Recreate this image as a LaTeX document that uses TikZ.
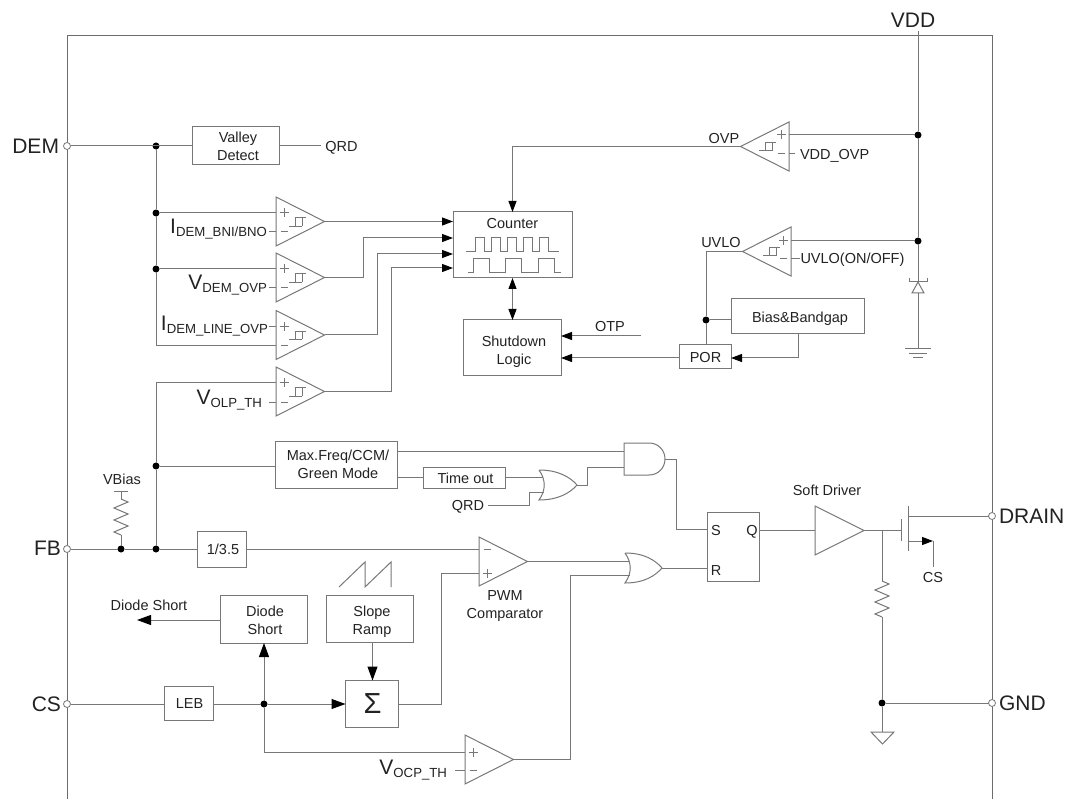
\documentclass[tikz,border=0pt]{standalone}
\usepackage{fontspec}
\setmainfont{Liberation Sans}
\usetikzlibrary{arrows.meta}
\definecolor{wire}{HTML}{777777}
\definecolor{ink}{HTML}{222222}
\tikzset{
  wirel/.style={draw=wire,line width=1pt},
  frame/.style={draw=wire!90!black,line width=0.95pt},
  box/.style={draw=wire,line width=1pt,fill=white,inner sep=0pt,outer sep=0pt},
  txt/.style={inner sep=0pt,outer sep=0pt,text=ink,align=center,text depth=0pt,font=\fontsize{14.5}{18}\selectfont},
  biglabel/.style={inner sep=0pt,outer sep=0pt,text=ink,text depth=0pt,font=\fontsize{21}{21}\selectfont},
  sublabel/.style={inner sep=0pt,outer sep=0pt,text=ink,font=\fontsize{21}{21}\selectfont},
  pinc/.style={circle,draw=wire,fill=white,line width=0.8pt,minimum size=7pt,inner sep=0pt,outer sep=0pt},
  jdot/.style={circle,fill=black,minimum size=7pt,inner sep=0pt,outer sep=0pt},
  arr/.style={-{Triangle[length=11pt,width=8pt,color=black]}},
  arrbig/.style={-{Triangle[length=14pt,width=10pt,color=black]}},
  darr/.style={{Triangle[length=11pt,width=8pt,color=black]}-{Triangle[length=11pt,width=8pt,color=black]}},
}
\newcommand{\bx}[5]{%
  \pgfmathsetmacro\bxw{#4-#2}\pgfmathsetmacro\bxh{#5-#3}%
  \node[box,minimum width=\bxw pt,minimum height=\bxh pt] (#1) at ({(#2+#4)/2},{(#3+#5)/2}) {};}
% text in a box: box name, text, dx, dy
\newcommand{\bl}[4]{\node[txt] (#1-t) at ([shift={(#3,#4)}]#1.center) {#2};}
\newcommand{\dotat}[3]{\node[jdot] (#1) at (#2,#3) {};}
\newcommand{\cmpR}[5]{%
  \begin{scope}[shift={(#2,#3)}]
  \draw[wirel,line join=miter] (0,0) -- (48.5,24.5) -- (0,49) -- cycle;
  \draw[wirel] (3.5,#4) -- (12.5,#4) (8,{#4-4.5}) -- (8,{#4+4.5}) (4.5,#5) -- (11.5,#5);
  \coordinate (#1-p) at (0,#4);
  \coordinate (#1-m) at (0,#5);
  \coordinate (#1-o) at (48.5,24.5);
  \end{scope}}
\newcommand{\cmpL}[5]{%
  \begin{scope}[shift={(#2,#3)}]
  \draw[wirel,line join=miter] (0,0) -- (-48.5,24.5) -- (0,49) -- cycle;
  \draw[wirel] (-3.5,#4) -- (-12.5,#4) (-8,{#4-4.5}) -- (-8,{#4+4.5}) (-4,#5) -- (-11.5,#5);
  \coordinate (#1-p) at (0,#4);
  \coordinate (#1-m) at (0,#5);
  \coordinate (#1-o) at (-48.5,24.5);
  \end{scope}}
\newcommand{\hyst}[2]{%
  \draw[wirel,line width=0.8pt] ({#1+13},{#2+4}) -- ({#1+26},{#2+4}) ({#1+19.5},{#2+4}) -- ({#1+19.5},{#2-4.5}) -- ({#1+30},{#2-4.5}) ({#1+26.5},{#2-4.5}) -- ({#1+26.5},{#2+4});}
\newcommand{\subl}[2]{#1\raisebox{-3pt}{\fontsize{13.2}{13}\selectfont #2}}
\newcommand{\resV}[2]{%
  \draw[wirel] (#1,#2) -- ({#1+7},{#2+3}) -- ({#1-7},{#2+9}) -- ({#1+7},{#2+15}) -- ({#1-7},{#2+21}) -- ({#1+7},{#2+27}) -- ({#1-7},{#2+33}) -- (#1,{#2+36});}
\begin{document}
\begin{tikzpicture}[x=1pt,y=-1pt]
\useasboundingbox (0,0) rectangle (1068,799);
% package outline
\draw[frame] (67,799) -- (67,35) -- (992,35) -- (992,799);
% pins
\node[pinc] (dem) at (67,146) {};
\node[pinc] (fb) at (67,549) {};
\node[pinc] (cs) at (67,704) {};
\node[pinc] (drain) at (992,516) {};
\node[pinc] (gnd) at (992,703) {};
\node[biglabel,anchor=east] (demL) at (59,146) {DEM};
\node[biglabel,anchor=east] (fbL) at (61,548) {FB};
\node[biglabel,anchor=east] (csL) at (61,704) {CS};
\node[biglabel,anchor=west] (drainL) at (999,516) {DRAIN};
\node[biglabel,anchor=west] (gndL) at (999,703) {GND};
\node[biglabel] (vddL) at (913,20) {VDD};
% boxes
\bx{valley}{192.5}{127}{279.5}{165}\bl{valley}{Valley\\Detect}{2}{0.5}
\bx{counterb}{453}{212}{572}{278}
\bx{shut}{463}{320}{561}{376}\bl{shut}{Shutdown\\Logic}{2}{2}
\bx{por}{679}{345}{731}{369}\bl{por}{POR}{0.5}{0}
\bx{bias}{731}{299}{864}{334}\bl{bias}{Bias\&Bandgap}{2.5}{1}
\bx{maxf}{275.5}{441}{397.5}{488.5}\bl{maxf}{Max.Freq/CCM/\\Green Mode}{1.5}{-1}
\bx{tout}{423}{467}{505}{488.5}\bl{tout}{Time out}{1.5}{0}
\bx{third}{197.5}{531}{246.5}{567}\bl{third}{1/3.5}{1}{0}
\bx{sr}{707.5}{512.5}{759.5}{581.5}
\bx{dshort}{220.5}{595.5}{307.5}{643}\bl{dshort}{Diode\\Short}{1}{1}
\bx{ramp}{326.5}{595.5}{413.5}{642.5}\bl{ramp}{Slope\\Ramp}{2}{1}
\bx{leb}{164.5}{686.5}{213.5}{720.5}\bl{leb}{LEB}{0.5}{0}
\bx{sigma}{345.5}{680.5}{398}{727.5}
\node[txt,font=\fontsize{29}{29}\selectfont] (sigmaT) at (372.5,704) {Σ};
% counter content
\node[txt] (counterT) at (512.5,223.5) {Counter};
\draw[wirel] (466,252) -- (475,252) -- (475,238) -- (484,238) -- (484,252) -- (491,252) -- (491,238) -- (500,238) -- (500,252) -- (507,252) -- (507,238) -- (516,238) -- (516,252) -- (523,252) -- (523,238) -- (532,238) -- (532,252) -- (539,252) -- (539,238) -- (548,238) -- (548,252) -- (559,252);
\draw[wirel] (468,273) -- (473,273) -- (473,259) -- (489,259) -- (489,273) -- (505,273) -- (505,259) -- (521,259) -- (521,273) -- (538,273) -- (538,259) -- (554,259) -- (554,273) -- (561,273);
% S R Q
\node[txt] (sT) at (716,530) {S};
\node[txt] (rT) at (716,571) {R};
\node[txt] (qT) at (752,530) {Q};
% comparators
\cmpR{c1}{276}{197}{16}{35}\hyst{276}{222}
\cmpR{c2}{276}{253}{16}{35}\hyst{276}{278}
\cmpR{c3}{276}{310.5}{16}{35.5}\hyst{276}{335.5}
\cmpR{c4}{276}{367}{16}{35}\hyst{276}{392}
\cmpL{ovp}{789}{122}{13}{32}\hyst{746}{146.7}
\cmpL{uv}{791}{227}{14}{32}\hyst{750}{251.7}
\cmpR{pwm}{479}{537}{36}{12}
\cmpR{ocp}{465}{735}{17}{35}
% comparator label stubs
\coordinate (s1) at (269,232); \draw[wirel] (s1) -- (c1-m);
\coordinate (s2) at (269,288); \draw[wirel] (s2) -- (c2-m);
\coordinate (s3) at (269,326.5); \draw[wirel] (s3) -- (c3-p);
\coordinate (s4) at (269,402); \draw[wirel] (s4) -- (c4-m);
\coordinate (s5) at (455,770); \draw[wirel] (s5) -- (ocp-m);
\coordinate (s6) at (795,154); \draw[wirel] (s6) -- (ovp-m);
\coordinate (s7) at (800,259); \draw[wirel] (s7) -- (uv-m);
% comparator labels
\node[sublabel,anchor=base east] (l1) at (267,234) {\subl{I}{DEM\_BNI/BNO}};
\node[sublabel,anchor=base east] (l2) at (267,290) {\subl{V}{DEM\_OVP}};
\node[sublabel,anchor=base east] (l3) at (268,331) {\subl{I}{DEM\_LINE\_OVP}};
\node[sublabel,anchor=base east] (l4) at (262,404) {\subl{V}{OLP\_TH}};
\node[sublabel,anchor=base east] (l5) at (447,774) {\subl{V}{OCP\_TH}};
\node[txt,anchor=west] (l6) at (800,154) {VDD\_OVP};
\node[txt,anchor=west] (l7) at (800.5,258) {UVLO(ON/OFF)};
\node[txt] (ovpT) at (724,138) {OVP};
\node[txt] (uvT) at (721,242) {UVLO};
\node[txt] (otpT) at (610,326) {OTP};
\node[txt] (qrd1) at (341.5,146) {QRD};
\node[txt] (qrd2) at (468,505) {QRD};
\node[txt] (vbias) at (122,479) {VBias};
\node[txt] (softT) at (827,490) {Soft Driver};
\node[txt] (pwmT) at (505,605) {PWM\\Comparator};
\node[txt] (dsT) at (149,605) {Diode Short};
\node[txt] (csT) at (933,577) {CS};
% DEM net
\dotat{ja}{156}{146}\dotat{jb}{156}{213}\dotat{jc}{156}{269}
\coordinate (qrdEnd) at (321,146);
\draw[wirel] (dem) -- (valley.west) (valley.east) -- (qrdEnd);
\draw[wirel] (ja) -- (jb) -- (jc) -- (c3-m -| jc) -- (c3-m);
\draw[wirel] (jb) -- (c1-p) (jc) -- (c2-p);
% comparators to counter
\coordinate (ci2) at (453,238);\coordinate (ci3) at (453,254);\coordinate (ci4) at (453,268);
\draw[wirel,arr] (c1-o) -- (c1-o -| counterb.west);
\coordinate (b2) at (363,277.5);\coordinate (b3) at (377,335);\coordinate (b4) at (391,391.5);
\draw[wirel,arr] (c2-o) -- (b2) |- (ci2);
\draw[wirel,arr] (c3-o) -- (b3) |- (ci3);
\draw[wirel,arr] (c4-o) -- (b4) |- (ci4);
\draw[wirel,arr] (ovp-o) -| (counterb.north);
\draw[wirel,darr] (counterb.south) -- (counterb.south |- shut.north);
% VDD rail
\coordinate (vddTop) at (918,31);
\dotat{jv1}{918}{135}\dotat{jv2}{918}{241}
\coordinate (zt) at (918,282);\coordinate (zb) at (918,293);\coordinate (gt) at (918,349);
\draw[wirel] (vddTop) -- (jv1) -- (jv2) -- (zt) (zb) -- (gt);
\draw[wirel] (jv1) -- (ovp-p) (jv2) -- (uv-p);
\draw[wirel] (912,293) -- (924,293) -- (918,282) -- cycle;
\draw[wirel] (909,278) -- (909,282) -- (927,282) -- (927,278);
\draw[wirel] (905,349) -- (931,349) (909,353.5) -- (927,353.5) (913,358) -- (923,358);
% UVLO / POR
\dotat{jp}{706}{320}
\draw[wirel] (por.north -| jp) -- (jp) -- (uv-o -| jp) -- (uv-o);
\draw[wirel] (jp) -- (bias.west |- jp);
\coordinate (bo) at (798,358);
\draw[wirel,arr] (bias.south -| bo) -- (bo) -- (por.east |- bo);
\coordinate (por2) at (679,358);
\draw[wirel,arr] (por2) -- (por2 -| shut.east);
\coordinate (otpE) at (641,336);
\draw[wirel,arr] (otpE) -- (otpE -| shut.east);
% FB net
\dotat{jf1}{121}{549}\dotat{jf2}{156}{549}\dotat{jf3}{156}{466}
\draw[wirel] (fb) -- (jf1) -- (jf2) -- (third.west) (third.east) -- (pwm-m);
\draw[wirel] (jf2) -- (jf3) -- (c4-p -| jf3) -- (c4-p);
\draw[wirel] (jf3) -- (jf3 -| maxf.west);
% VBias resistor
\coordinate (rvT) at (121,491);\coordinate (rvA) at (121,499);\coordinate (rvB) at (121,535);
\draw[wirel] (114,491) -- (128,491) (rvT) -- (rvA);
\resV{121}{499}
\draw[wirel] (rvB) -- (jf1);
% Logic gates
\draw[wirel] (624,443) -- (649,443) .. controls (658,443) and (665,450) .. (665,459) .. controls (665,468) and (658,475) .. (649,475) -- (624,475) -- cycle;
\coordinate (and1) at (624,451.5);\coordinate (and2) at (624,467);\coordinate (ando) at (665,459);
\draw[wirel] (539,470) .. controls (558,470) and (570,477) .. (577,485) .. controls (570,493) and (558,500) .. (539,500) .. controls (546,490) and (546,480) .. (539,470);
\coordinate (or1a) at (543,478);\coordinate (or1b) at (544,492);\coordinate (or1o) at (577,485);
\draw[wirel] (625,553) .. controls (644,553) and (655,560) .. (662,568) .. controls (655,576) and (644,583) .. (625,583) .. controls (632,573) and (632,563) .. (625,553);
\coordinate (or2a) at (629,561.5);\coordinate (or2b) at (630,575);\coordinate (or2o) at (662,568);
\draw[wirel] (maxf.east |- and1) -- (and1);
\coordinate (m2) at (397.5,477.75);
\draw[wirel] (m2) -- (tout.west);
\draw[wirel] (tout.east) -- (or1a |- tout.east);
\coordinate (q2s) at (488,505);\coordinate (q2m) at (529,505);
\draw[wirel] (q2s) -- (q2m) |- (or1b);
\coordinate (o1m) at (587,485);
\draw[wirel] (or1o) -- (o1m) |- (and2);
\coordinate (am) at (676,459);\coordinate (sin) at (707.5,529.5);
\draw[wirel] (ando) -- (am) |- (sin);
\coordinate (rin) at (707.5,568);
\draw[wirel] (or2o) -- (rin);
\draw[wirel] (pwm-o) -- (or2a);
\coordinate (om) at (570,759.5);
\draw[wirel] (ocp-o) -- (om) |- (or2b);
% Soft driver and MOSFET
\coordinate (qo) at (759.5,530.5);
\draw[wirel,line join=miter] (815,506) -- (864,530.5) -- (815,555) -- cycle;
\coordinate (dl) at (815,530.5);\coordinate (dr) at (864,530.5);\coordinate (jg) at (882,530.5);\coordinate (gg) at (901,530.5);
\draw[wirel] (qo) -- (dl) (dr) -- (jg) -- (gg);
\draw[wirel] (901,519) -- (901,541) (908,506) -- (908,551);
\coordinate (md) at (908,516);\coordinate (ms) at (908,541);\coordinate (ma) at (933,541);\coordinate (mb) at (933,567);
\draw[wirel] (md) -- (drain);
\draw[wirel,arr] (ms) -- (ma);
\draw[wirel] (ma) -- (mb);
\coordinate (rgT) at (882,581);\coordinate (rgB) at (882,617);
\draw[wirel] (jg) -- (rgT);
\resV{882}{581}
\dotat{jg2}{882}{703}
\coordinate (gs) at (882,732);
\draw[wirel] (rgB) -- (jg2) -- (gs) (jg2) -- (gnd);
\draw[wirel,line join=miter] (871,732) -- (894,732) -- (882.5,744) -- cycle;
% PWM input and sigma
\coordinate (pm) at (441,704);
\draw[wirel] (sigma.east) -- (pm) |- (pwm-p);
\draw[wirel,arrbig] (ramp.south -| sigmaT) -- (sigma.north -| sigmaT);
\draw[wirel] (339,587) -- (365,562) -- (365,587) -- (391,562) -- (391,587);
% CS net
\dotat{jl}{264}{704}
\draw[wirel] (cs) -- (cs -| leb.west) (cs -| leb.east) -- (jl);
\draw[wirel,arrbig] (jl) -- (jl -| sigma.west);
\draw[wirel,arrbig] (jl) -- (dshort.south -| jl);
\draw[wirel] (jl) |- (ocp-p);
\coordinate (dsE) at (137,620);
\draw[wirel,arrbig] (dshort.west |- dsE) -- (dsE);
\end{tikzpicture}
\end{document}
